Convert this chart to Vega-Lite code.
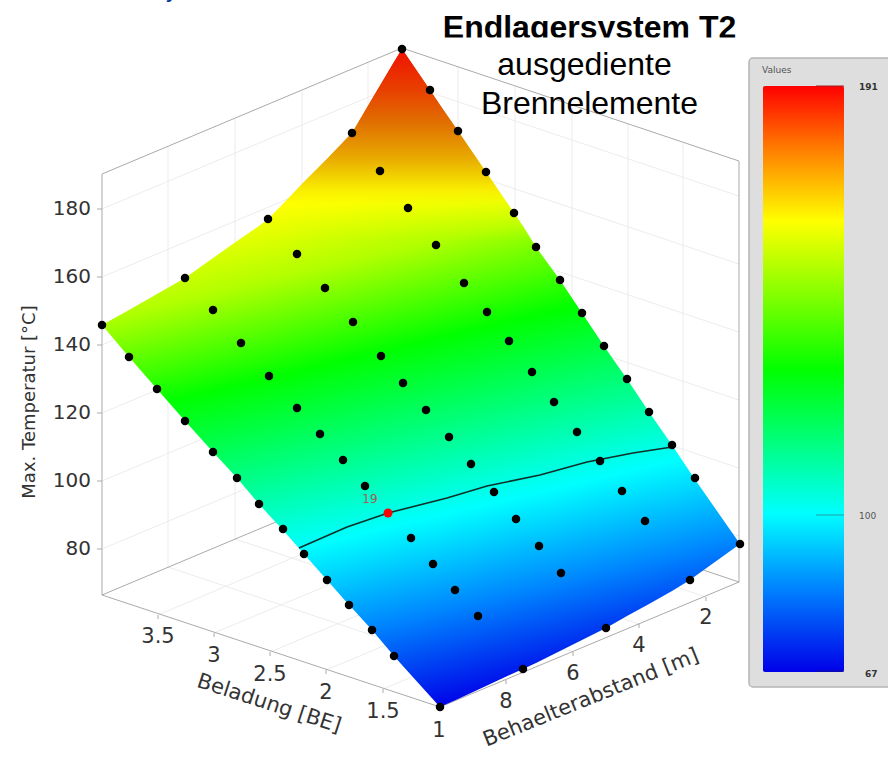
{"$schema":"https://vega.github.io/schema/vega-lite/v6.json","width":888,"height":761,"padding":0,"autosize":{"type":"none"},"background":"white","config":{"view":{"stroke":null}},
"encoding":{"x":{"field":"u","type":"quantitative","scale":{"domain":[0,888],"nice":false},"axis":null},"y":{"field":"v","type":"quantitative","scale":{"domain":[761,0],"nice":false},"axis":null}},
"datasets":{
"grid":[
{"u":102,"v":209,"u2":402,"v2":83},{"u":102,"v":277,"u2":402,"v2":151},{"u":102,"v":345,"u2":402,"v2":219},{"u":102,"v":413,"u2":402,"v2":287},{"u":102,"v":481,"u2":402,"v2":355},{"u":102,"v":549,"u2":402,"v2":423},
{"u":402,"v":83,"u2":739,"v2":196},{"u":402,"v":151,"u2":739,"v2":264},{"u":402,"v":219,"u2":739,"v2":332},{"u":402,"v":287,"u2":739,"v2":400},{"u":402,"v":355,"u2":739,"v2":468},{"u":402,"v":423,"u2":739,"v2":536},
{"u":168,"v":146,"u2":168,"v2":567},{"u":235,"v":118,"u2":235,"v2":539},{"u":302,"v":90,"u2":302,"v2":511},{"u":368,"v":62,"u2":368,"v2":483},
{"u":458,"v":67,"u2":458,"v2":488},{"u":515,"v":86,"u2":515,"v2":507},{"u":572,"v":105,"u2":572,"v2":526},{"u":628,"v":124,"u2":628,"v2":544},{"u":683,"v":142,"u2":683,"v2":563},
{"u":158,"v":615,"u2":458,"v2":488},{"u":214,"v":633,"u2":515,"v2":507},{"u":270,"v":652,"u2":572,"v2":526},{"u":326,"v":670,"u2":628,"v2":544},{"u":383,"v":689,"u2":683,"v2":563},
{"u":506,"v":680,"u2":168,"v2":567},{"u":573,"v":652,"u2":235,"v2":539},{"u":639,"v":624,"u2":302,"v2":511},{"u":706,"v":597,"u2":368,"v2":483}],
"frame":[
{"u":102,"v":174,"u2":102,"v2":595},{"u":102,"v":174,"u2":402,"v2":48},{"u":402,"v":48,"u2":739,"v2":161},{"u":739,"v":161,"u2":739,"v2":582},{"u":102,"v":595,"u2":402,"v2":469},{"u":402,"v":469,"u2":739,"v2":582},{"u":102,"v":595,"u2":440,"v2":707},{"u":440,"v":707,"u2":739,"v2":582},
{"u":97,"v":209,"u2":102,"v2":209},{"u":97,"v":277,"u2":102,"v2":277},{"u":97,"v":345,"u2":102,"v2":345},{"u":97,"v":413,"u2":102,"v2":413},{"u":97,"v":481,"u2":102,"v2":481},{"u":97,"v":549,"u2":102,"v2":549},
{"u":158,"v":615,"u2":158,"v2":619},{"u":214,"v":633,"u2":214,"v2":637},{"u":270,"v":652,"u2":270,"v2":656},{"u":326,"v":670,"u2":326,"v2":674},{"u":383,"v":689,"u2":383,"v2":693},
{"u":506,"v":680,"u2":506,"v2":684},{"u":573,"v":652,"u2":573,"v2":656},{"u":639,"v":624,"u2":639,"v2":628},{"u":706,"v":597,"u2":706,"v2":601}],
"surface":[
{"u":102,"v":325,"v2":325},{"u":129,"v":310,"v2":357},{"u":157,"v":294,"v2":389},{"u":185,"v":278,"v2":421},{"u":213,"v":258,"v2":452},{"u":237,"v":241,"v2":478},{"u":259,"v":226,"v2":504},{"u":268,"v":219,"v2":514},{"u":282,"v":205,"v2":529},{"u":304,"v":182,"v2":554},{"u":327,"v":159,"v2":580},{"u":349,"v":136,"v2":605},{"u":352,"v":133,"v2":608},{"u":372,"v":99,"v2":630},{"u":394,"v":62,"v2":656},{"u":402,"v":49,"v2":665},{"u":430,"v":90,"v2":696},{"u":440,"v":105,"v2":707},{"u":458,"v":131,"v2":699},{"u":486,"v":172,"v2":686},{"u":514,"v":213,"v2":673},{"u":523,"v":226,"v2":669},{"u":536,"v":247,"v2":663},{"u":560,"v":280,"v2":651},{"u":582,"v":313,"v2":640},{"u":604,"v":346,"v2":629},{"u":606,"v":349,"v2":628},{"u":627,"v":379,"v2":616},{"u":649,"v":412,"v2":604},{"u":672,"v":445,"v2":591},{"u":690,"v":472,"v2":580},{"u":694,"v":478,"v2":577},{"u":740,"v":544,"v2":544}],
"cap":[{"u":238,"v":240,"v2":240},{"u":259,"v":226,"v2":240},{"u":268,"v":219,"v2":240},{"u":282,"v":205,"v2":240},{"u":304,"v":182,"v2":240},{"u":327,"v":159,"v2":240},{"u":349,"v":136,"v2":240},{"u":352,"v":133,"v2":240},{"u":372,"v":99,"v2":240},{"u":394,"v":62,"v2":240},{"u":402,"v":49,"v2":240},{"u":430,"v":90,"v2":240},{"u":440,"v":105,"v2":240},{"u":458,"v":131,"v2":240},{"u":486,"v":172,"v2":240},{"u":514,"v":213,"v2":240},{"u":523,"v":226,"v2":240},{"u":532,"v":240,"v2":240}],
"contour":[{"u":299,"v":548},{"u":347,"v":527},{"u":388,"v":513},{"u":447,"v":498},{"u":487,"v":486},{"u":540,"v":475},{"u":587,"v":462},{"u":633,"v":453},{"u":672,"v":447}],
"dots":[
{"u":402,"v":49},{"u":430,"v":90},{"u":458,"v":131},{"u":486,"v":172},{"u":514,"v":213},{"u":536,"v":247},{"u":560,"v":280},{"u":582,"v":313},{"u":604,"v":346},{"u":627,"v":379},{"u":649,"v":412},{"u":672,"v":445},{"u":695,"v":478},{"u":740,"v":544},
{"u":352,"v":133},{"u":380,"v":171},{"u":408,"v":208},{"u":436,"v":245},{"u":464,"v":283},{"u":487,"v":312},{"u":509,"v":341},{"u":532,"v":372},{"u":554,"v":402},{"u":577,"v":432},{"u":600,"v":461},{"u":622,"v":491},{"u":645,"v":521},{"u":690,"v":580},
{"u":268,"v":219},{"u":297,"v":254},{"u":325,"v":288},{"u":353,"v":322},{"u":381,"v":356},{"u":403,"v":383},{"u":426,"v":410},{"u":449,"v":437},{"u":471,"v":464},{"u":494,"v":492},{"u":516,"v":519},{"u":539,"v":546},{"u":561,"v":573},{"u":606,"v":628},
{"u":185,"v":278},{"u":213,"v":310},{"u":241,"v":343},{"u":269,"v":376},{"u":297,"v":408},{"u":320,"v":434},{"u":343,"v":460},{"u":365,"v":486},{"u":411,"v":538},{"u":433,"v":564},{"u":455,"v":590},{"u":478,"v":616},{"u":523,"v":669},
{"u":102,"v":325},{"u":129,"v":357},{"u":157,"v":389},{"u":185,"v":421},{"u":213,"v":452},{"u":237,"v":478},{"u":259,"v":504},{"u":283,"v":529},{"u":304,"v":554},{"u":327,"v":580},{"u":349,"v":605},{"u":372,"v":630},{"u":394,"v":656},{"u":440,"v":707}],
"ticksY":[{"u":91,"v":209,"t":"180"},{"u":91,"v":277,"t":"160"},{"u":91,"v":345,"t":"140"},{"u":91,"v":413,"t":"120"},{"u":91,"v":481,"t":"100"},{"u":91,"v":549,"t":"80"}],
"ticksX":[{"u":158,"v":637,"t":"3.5"},{"u":214,"v":656,"t":"3"},{"u":270,"v":675,"t":"2.5"},{"u":326,"v":693,"t":"2"},{"u":383,"v":712,"t":"1.5"},{"u":439,"v":731,"t":"1"},{"u":506,"v":702,"t":"8"},{"u":573,"v":674,"t":"6"},{"u":639,"v":646,"t":"4"},{"u":706,"v":618,"t":"2"}]
},
"layer":[
{"data":{"name":"grid"},"mark":{"type":"rule","color":"#ececec","strokeWidth":1},"encoding":{"x2":{"field":"u2"},"y2":{"field":"v2"}}},
{"data":{"name":"frame"},"mark":{"type":"rule","color":"#aaaaaa","strokeWidth":1},"encoding":{"x2":{"field":"u2"},"y2":{"field":"v2"}}},
{"data":{"name":"surface"},"mark":{"type":"area","orient":"vertical","color":{"gradient":"linear","x1":0.47,"y1":0,"x2":0.69,"y2":0.967,"stops":[{"offset":0,"color":"#f01000"},{"offset":0.1,"color":"#ea8000"},{"offset":0.19,"color":"#ffff00"},{"offset":0.3,"color":"#b0ff00"},{"offset":0.445,"color":"#00ff00"},{"offset":0.58,"color":"#00ff80"},{"offset":0.71,"color":"#00ffff"},{"offset":0.85,"color":"#0088ff"},{"offset":1,"color":"#0000e8"}]}},"encoding":{"y2":{"field":"v2"}}},
{"data":{"name":"cap"},"mark":{"type":"area","orient":"vertical","color":{"gradient":"linear","x1":0.5,"y1":0,"x2":0.5,"y2":1,"stops":[{"offset":0,"color":"rgba(240,16,0,1)"},{"offset":0.215,"color":"rgba(232,64,0,1)"},{"offset":0.387,"color":"rgba(224,112,0,1)"},{"offset":0.565,"color":"rgba(232,168,0,1)"},{"offset":0.738,"color":"rgba(248,238,0,1)"},{"offset":0.817,"color":"rgba(255,255,0,0.6)"},{"offset":1,"color":"rgba(220,255,0,0)"}]}},"encoding":{"y2":{"field":"v2"}}},
{"data":{"name":"contour"},"mark":{"type":"line","color":"#10302a","strokeWidth":1.6}},
{"data":{"name":"dots"},"mark":{"type":"point","filled":true,"color":"#000000","opacity":1,"size":72}},
{"data":{"values":[{"u":388,"v":513}]},"mark":{"type":"point","filled":true,"color":"#ff0000","opacity":1,"size":80}},
{"data":{"values":[{"u":370,"v":499,"t":"19"}]},"mark":{"type":"text","font":"DejaVu Sans","fontSize":12,"color":"#a85a50","align":"center","baseline":"middle"},"encoding":{"text":{"field":"t"}}},
{"data":{"name":"ticksY"},"mark":{"type":"text","font":"DejaVu Sans","fontSize":20,"color":"#333333","align":"right","baseline":"middle"},"encoding":{"text":{"field":"t"}}},
{"data":{"name":"ticksX"},"mark":{"type":"text","font":"DejaVu Sans","fontSize":21,"color":"#333333","align":"center","baseline":"middle"},"encoding":{"text":{"field":"t"}}},
{"data":{"values":[{"u":30,"v":402,"t":"Max. Temperatur [°C]"}]},"mark":{"type":"text","font":"DejaVu Sans","fontSize":18,"color":"#333333","align":"center","baseline":"middle","angle":270},"encoding":{"text":{"field":"t"}}},
{"data":{"values":[{"u":269,"v":704,"t":"Beladung [BE]"}]},"mark":{"type":"text","font":"DejaVu Sans","fontSize":21,"color":"#333333","align":"center","baseline":"middle","angle":18},"encoding":{"text":{"field":"t"}}},
{"data":{"values":[{"u":591,"v":698,"t":"Behaelterabstand [m]"}]},"mark":{"type":"text","font":"DejaVu Sans","fontSize":21,"color":"#333333","align":"center","baseline":"middle","angle":338},"encoding":{"text":{"field":"t"}}},
{"data":{"values":[{"u":172,"v":-3,"t":"y"}]},"mark":{"type":"text","font":"Liberation Sans","fontSize":24,"color":"#0033a0","align":"center","baseline":"alphabetic"},"encoding":{"text":{"field":"t"}}},
{"data":{"values":[{"u":589.5,"v":38,"t":"Endlagersystem T2"}]},"mark":{"type":"text","font":"Liberation Sans","fontWeight":"bold","fontSize":32,"color":"#000000","align":"center","baseline":"alphabetic"},"encoding":{"text":{"field":"t"}}},
{"data":{"values":[{"u":440,"u2":740,"v":37.5,"v2":46}]},"mark":{"type":"rect","color":"#ffffff"},"encoding":{"x2":{"field":"u2"},"y2":{"field":"v2"}}},
{"data":{"values":[{"u":584.5,"v":75,"t":"ausgediente"},{"u":589.5,"v":114,"t":"Brennelemente"}]},"mark":{"type":"text","font":"Liberation Sans","fontSize":32,"color":"#000000","align":"center","baseline":"alphabetic"},"encoding":{"text":{"field":"t"}}},
{"data":{"values":[{"u":749,"u2":895,"v":58,"v2":687}]},"mark":{"type":"rect","color":"#dedede","stroke":"#b5b5b5","strokeWidth":1.5,"cornerRadius":4},"encoding":{"x2":{"field":"u2"},"y2":{"field":"v2"}}},
{"data":{"values":[{"u":763,"u2":844,"v":86,"v2":672}]},"mark":{"type":"rect","cornerRadius":2,"color":{"gradient":"linear","x1":0,"y1":0,"x2":0,"y2":1,"stops":[{"offset":0,"color":"#ff0000"},{"offset":0.11,"color":"#ff8000"},{"offset":0.23,"color":"#ffff00"},{"offset":0.36,"color":"#80ff00"},{"offset":0.485,"color":"#00ff00"},{"offset":0.61,"color":"#00ff80"},{"offset":0.73,"color":"#00ffff"},{"offset":0.86,"color":"#0080ff"},{"offset":1,"color":"#0000e8"}]}},"encoding":{"x2":{"field":"u2"},"y2":{"field":"v2"}}},
{"data":{"values":[{"u":816,"v":86,"u2":844,"k":"#a02020"},{"u":816,"v":515,"u2":844,"k":"#20a0a0"},{"u":816,"v":671,"u2":844,"k":"#101090"}]},"mark":{"type":"rule","strokeWidth":1},"encoding":{"x2":{"field":"u2"},"color":{"field":"k","type":"nominal","scale":null}}},
{"data":{"values":[{"u":762,"v":70,"t":"Values"},{"u":859,"v":516,"t":"100"}]},"mark":{"type":"text","font":"DejaVu Sans","fontSize":9,"color":"#555555","align":"left","baseline":"middle"},"encoding":{"text":{"field":"t"}}},
{"data":{"values":[{"u":859,"v":87,"t":"191"},{"u":865,"v":674,"t":"67"}]},"mark":{"type":"text","font":"DejaVu Sans","fontWeight":"bold","fontSize":9,"color":"#333333","align":"left","baseline":"middle"},"encoding":{"text":{"field":"t"}}}
]}
